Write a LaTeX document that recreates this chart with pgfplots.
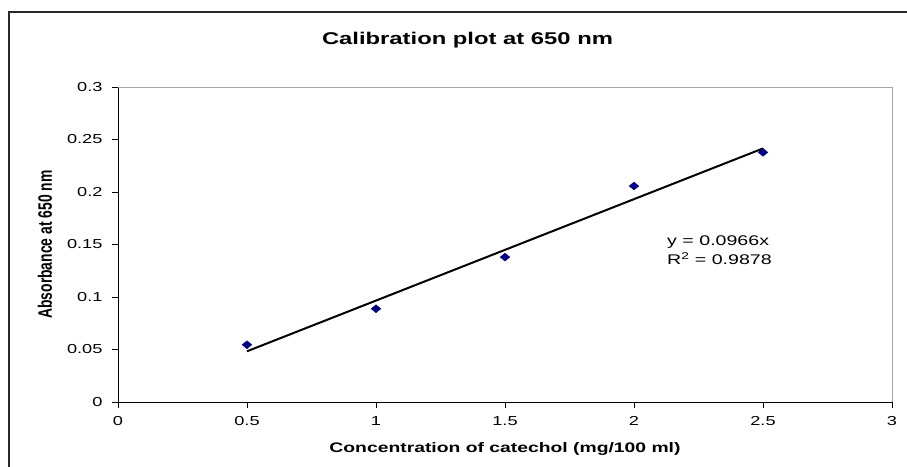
\documentclass[border=0pt]{standalone}
\usepackage{fontspec}
\setmainfont[FakeStretch=1.4]{Liberation Sans}
\newfontfamily\ylabfont{Liberation Sans}
\usepackage{graphicx}
\usepackage{pgfplots}
\pgfplotsset{compat=1.18}
\definecolor{navy}{RGB}{0,0,128}
\definecolor{framegray}{RGB}{40,40,40}
\begin{document}
\begin{tikzpicture}
\useasboundingbox (0pt,0pt) rectangle (907pt,466pt);
\clip (0pt,0pt) rectangle (907pt,466pt);
\fill[white] (0pt,0pt) rectangle (907pt,466pt);
\draw[framegray, line width=2pt] (9pt,-5pt) -- (9pt,453.5pt) -- (915pt,453.5pt);
\node[anchor=base, font=\fontsize{17}{20}\selectfont\bfseries] at (467.5pt,421pt) {Calibration plot at 650 nm};
\begin{axis}[
  at={(118pt,64pt)}, anchor=south west,
  width=774pt, height=315pt, scale only axis,
  xmin=0, xmax=3, ymin=0, ymax=0.3,
  xtick={0,0.5,1,1.5,2,2.5,3},
  ytick={0,0.05,0.1,0.15,0.2,0.25,0.3},
  axis lines*=left,
  axis line style={-, black, line width=0.8pt},
  tick align=outside, major tick length=6pt,
  tick style={black, line width=0.8pt},
  /pgf/number format/assume math mode=true,
  scaled y ticks=false,
  yticklabel style={font=\fontsize{13}{15}\selectfont, /pgf/number format/fixed, /pgf/number format/precision=2, xshift=-6pt},
  xticklabel style={font=\fontsize{13}{15}\selectfont, yshift=-5pt},
  xlabel={Concentration of catechol (mg/100 ml)},
  xlabel style={font=\fontsize{13.8}{16}\selectfont\bfseries, at={(axis description cs:0.5,0)}, anchor=base, yshift=-50.5pt},
  ylabel={\scalebox{1}[1.4]{\ylabfont\bfseries\fontsize{13.9}{16}\selectfont Absorbance at 650 nm}},
  ylabel style={at={(axis description cs:0,0.5)}, anchor=center, yshift=73pt},
  clip=false,
]
\draw[gray!70, line width=0.8pt] (rel axis cs:0,1) -- (rel axis cs:1,1) -- (rel axis cs:1,0);
\addplot[black, line width=2pt] coordinates {(0.5,0.0483) (2.5,0.2415)};
\addplot[only marks, mark=diamond*, mark size=4pt, mark options={xscale=1.6, fill=navy, draw=navy}] coordinates {
  (0.5,0.0545) (1,0.0888) (1.5,0.138) (2,0.2057) (2.5,0.2378)
};
\node[anchor=base west, font=\fontsize{14}{16}\selectfont, inner sep=0pt] at (axis cs:2.128,0.1495) {y = 0.0966x};
\node[anchor=base west, font=\fontsize{14}{16}\selectfont, inner sep=0pt] at (axis cs:2.128,0.1311) {R\textsuperscript{2} = 0.9878};
\end{axis}
\end{tikzpicture}
\end{document}
